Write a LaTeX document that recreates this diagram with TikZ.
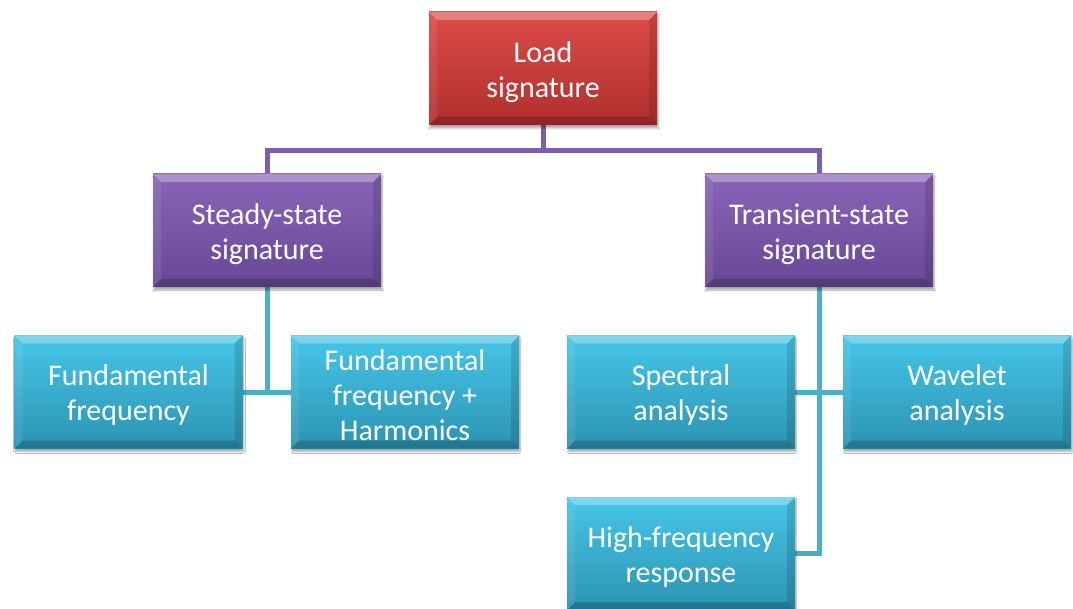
\documentclass[tikz,border=0pt]{standalone}
\usepackage{fontspec}
\setmainfont{Carlito}
\usetikzlibrary{backgrounds,shadows.blur}

\definecolor{redTop}{HTML}{DC4B48}
\definecolor{redBot}{HTML}{B0302E}
\definecolor{purTop}{HTML}{8864B6}
\definecolor{purBot}{HTML}{694897}
\definecolor{tealTop}{HTML}{46C6E8}
\definecolor{tealBot}{HTML}{2C93B2}
\definecolor{purLine}{HTML}{7D5EA8}
\definecolor{tealLine}{HTML}{4BAFCB}

\tikzset{
  tiletext/.style={text=white, align=center, inner sep=0pt,
    font=\fontsize{30}{35}\selectfont, yshift=-3.5pt},
  tile/.style={
    minimum width=228pt, minimum height=113pt, inner sep=0pt,
    blur shadow={shadow xshift=1pt, shadow yshift=-3pt, shadow opacity=35, shadow blur steps=6},
    path picture={
      \def\bv{8pt}
      \coordinate (bsw) at (path picture bounding box.south west);
      \coordinate (bse) at (path picture bounding box.south east);
      \coordinate (bnw) at (path picture bounding box.north west);
      \coordinate (bne) at (path picture bounding box.north east);
      \fill[white,opacity=0.30] (bnw) -- (bne) -- ([xshift=-\bv,yshift=-\bv]bne) -- ([xshift=\bv,yshift=-\bv]bnw) -- cycle;
      \fill[black,opacity=0.20] (bsw) -- (bse) -- ([xshift=-\bv,yshift=\bv]bse) -- ([xshift=\bv,yshift=\bv]bsw) -- cycle;
      \fill[white,opacity=0.08] (bsw) -- (bnw) -- ([xshift=\bv,yshift=-\bv]bnw) -- ([xshift=\bv,yshift=\bv]bsw) -- cycle;
      \fill[black,opacity=0.12] (bse) -- (bne) -- ([xshift=-\bv,yshift=-\bv]bne) -- ([xshift=-\bv,yshift=\bv]bse) -- cycle;
    }},
  caption/.style={label={[tiletext]center:#1}},
  redtile/.style={tile, top color=redTop, bottom color=redBot},
  purtile/.style={tile, top color=purTop, bottom color=purBot},
  tealtile/.style={tile, top color=tealTop, bottom color=tealBot},
  purlink/.style={draw=purLine, line width=5pt},
  teallink/.style={draw=tealLine, line width=5pt},
}

\begin{document}
\begin{tikzpicture}[x=1pt, y=-1pt]
  \useasboundingbox (0,0) rectangle (1073,609);

  % root
  \node[redtile, caption={Load\\signature}] (load) at (543,68.5) {};

  % second level
  \node[purtile, caption={Steady-state\\signature}] (steady) at (267,230.5) {};
  \node[purtile, caption={Transient-state\\signature}] (trans) at (819,230.5) {};

  % leaves
  \node[tealtile, caption={Fundamental\\frequency}] (ff) at (128.5,392) {};
  \node[tealtile, caption={Fundamental\\frequency +\\Harmonics}] (ffh) at (405,392) {};
  \node[tealtile, caption={Spectral\\analysis}] (spec) at (681,392) {};
  \node[tealtile, caption={Wavelet\\analysis}] (wav) at (957,392) {};
  \node[tealtile, caption={High-frequency\\response}] (hf) at (681,553.5) {};

  \begin{scope}[on background layer]
    \fill[white] (0,0) rectangle (1073,609);
    % root to second level
    \draw[purlink] (load.south) -- ++(0,25) -| (steady.north);
    \draw[purlink] (load.south) -- ++(0,25) -| (trans.north);
    % steady-state branch
    \draw[teallink] (steady.south) |- (ff.east);
    \draw[teallink] (steady.south) |- (ffh.west);
    % transient-state branch
    \draw[teallink] (trans.south) |- (spec.east);
    \draw[teallink] (trans.south) |- (wav.west);
    \draw[teallink] (trans.south) |- (hf.east);
  \end{scope}
\end{tikzpicture}
\end{document}
